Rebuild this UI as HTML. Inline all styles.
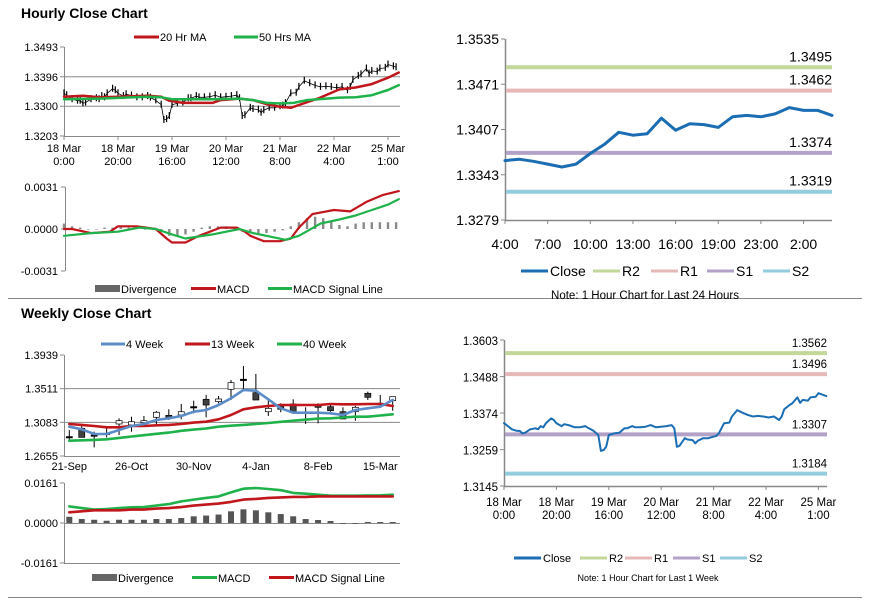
<!DOCTYPE html>
<html><head><meta charset="utf-8"><style>
html,body{margin:0;padding:0;background:#fff;}
svg{display:block;font-family:"Liberation Sans",Arial,sans-serif;}
</style></head><body>
<svg id="s" width="873" height="601" viewBox="0 0 873 601" xmlns="http://www.w3.org/2000/svg">
<text x="21" y="18" font-size="14" font-weight="bold" fill="#000">Hourly Close Chart</text>
<text x="21" y="318" font-size="14" font-weight="bold" fill="#000">Weekly Close Chart</text>
<line x1="8" y1="298.5" x2="862" y2="298.5" stroke="#888" stroke-width="1"/>
<line x1="8" y1="597.5" x2="862" y2="597.5" stroke="#888" stroke-width="1"/>
<g id="g"></g>
</svg>
<script>
// ---------- data ----------
// hourly closes (hour index from 18 Mar 0:00) – shared by hourly bar chart and 1-week close chart
const hourIdx = [0,1,3,5,6,7,8,10,12,13,14,15,16,18,19,20,22,23,25,27,29,31,32,34,36,37,38,39,40,42,44,46,47,49,50,52,54,56,58,60,62,64,65,66,67,69,70,72,73,74,76,78,80,81,82,84,86,87,89,91,93,95,97,99,101,103,105,106,107,109,110,112,113,114,116,117,119,120,122,123];
const hourClose = [1.3342,1.3336,1.3323,1.3318,1.3318,1.3310,1.3312,1.3323,1.3326,1.3323,1.3333,1.3329,1.3342,1.3357,1.3352,1.3342,1.3333,1.3339,1.3335,1.3329,1.3329,1.3333,1.3328,1.3319,1.3305,1.3255,1.3258,1.3268,1.3305,1.3310,1.3312,1.3326,1.3326,1.3333,1.3329,1.3329,1.3331,1.3336,1.3329,1.3331,1.3333,1.3336,1.3326,1.3268,1.3271,1.3295,1.3291,1.3289,1.3279,1.3287,1.3295,1.3295,1.3300,1.3302,1.3310,1.3342,1.3344,1.3363,1.3383,1.3375,1.3368,1.3363,1.3365,1.3363,1.3360,1.3363,1.3352,1.3363,1.3386,1.3399,1.3404,1.3423,1.3406,1.3415,1.3413,1.3423,1.3425,1.3436,1.3430,1.3427];
const ma20Hours = [0,7,13,20,31,36,39,44,55,58,65,70,75,80,84,87,94,102,108,114,120,124];
const ma20Values = [1.3331,1.3334,1.3329,1.3331,1.3334,1.3331,1.3318,1.3311,1.3311,1.3320,1.3325,1.3320,1.3307,1.3298,1.3295,1.3304,1.3325,1.3355,1.3361,1.3372,1.3393,1.3410];
const ma50Hours = [0,13,31,36,40,55,65,70,75,80,85,90,102,108,114,120,124];
const ma50Values = [1.3323,1.3325,1.3331,1.3329,1.3323,1.3323,1.3325,1.3320,1.3311,1.3309,1.3311,1.3320,1.3328,1.3329,1.3336,1.3353,1.3369];
const hMacdHours = [0,3,10,17,20,27,34,38,40,45,50,58,64,67,69,74,80,84,87,92,100,106,112,118,124];
const hMacdValues = [0.0000,0.0000,-0.0003,-0.0002,0.0002,0.0002,0.0000,-0.0007,-0.0010,-0.0010,-0.0005,0.0001,0.0001,-0.0002,-0.0005,-0.0009,-0.0009,-0.0007,0.0001,0.0011,0.0014,0.0013,0.0020,0.0025,0.0028];
const hSigHours = [0,10,20,28,34,40,45,55,65,70,75,82,87,95,102,108,114,120,124];
const hSigValues = [-0.0005,-0.0003,-0.0002,0.0001,0.0000,-0.0004,-0.0007,-0.0004,0.0000,-0.0003,-0.0005,-0.0008,-0.0005,0.0004,0.0007,0.0010,0.0014,0.0018,0.0022];
const hDivHours = [0,3,6,9,12,15,18,21,24,27,30,33,36,39,42,45,48,51,54,57,60,63,66,69,72,75,78,81,84,87,90,93,96,99,102,105,108,111,114,117,120,123];
const hDivValues = [0.0004,0.0002,0.0001,0.0000,0.0000,0.0001,0.0001,0.0002,0.0001,0.0001,0.0000,0.0000,-0.0002,-0.0005,-0.0005,-0.0004,-0.0002,0.0001,0.0002,0.0002,0.0002,0.0001,-0.0002,-0.0003,-0.0003,-0.0003,-0.0002,-0.0001,0.0002,0.0005,0.0008,0.0009,0.0008,0.0006,0.0003,0.0002,0.0004,0.0005,0.0005,0.0005,0.0005,0.0005];
const hourTickHours = [0,20,40,60,80,100,120];
const hourTickLine1 = ["18 Mar","18 Mar","19 Mar","20 Mar","21 Mar","22 Mar","25 Mar"];
const hourTickLine2 = ["0:00","20:00","16:00","12:00","8:00","4:00","1:00"];
const hPriceTicks = [1.3493,1.3396,1.3300,1.3203];
const hMacdTicks = [0.0031,0.0000,-0.0031];

// 24h close chart
const dayClose = [1.3363,1.3365,1.3362,1.3358,1.3354,1.3358,1.3373,1.3386,1.3403,1.3399,1.3401,1.3423,1.3406,1.3415,1.3414,1.3410,1.3425,1.3427,1.3425,1.3429,1.3438,1.3434,1.3434,1.3427];
const dayTickIdx = [0,3,6,9,12,15,18,21];
const dayTickLabels = ["4:00","7:00","10:00","13:00","16:00","19:00","23:00","2:00"];
const dayYTicks = [1.3535,1.3471,1.3407,1.3343,1.3279];
const dayLevels = [1.3495,1.3462,1.3374,1.3319];
const weekLevels = [1.3562,1.3496,1.3307,1.3184];
const weekYTicks = [1.3603,1.3488,1.3374,1.3259,1.3145];

// weekly candles
const wOpen = [1.2901,1.3007,1.2922,1.2943,1.3062,1.3050,1.3079,1.3147,1.3172,1.3176,1.3282,1.3376,1.3346,1.3503,1.3630,1.3460,1.3218,1.3291,1.3316,1.3211,1.3303,1.3282,1.3218,1.3218,1.3452,1.3325,1.3358];
const wHigh = [1.2985,1.3037,1.2964,1.3037,1.3134,1.3155,1.3164,1.3227,1.3249,1.3316,1.3358,1.3431,1.3418,1.3621,1.3799,1.3698,1.3388,1.3325,1.3376,1.3274,1.3325,1.3303,1.3274,1.3291,1.3473,1.3431,1.3409];
const wLow = [1.2837,1.2892,1.2765,1.2892,1.2922,1.2964,1.3037,1.3050,1.3113,1.3122,1.3198,1.3147,1.3325,1.3367,1.3494,1.3367,1.3164,1.3211,1.3211,1.3062,1.3070,1.3218,1.3126,1.3104,1.3367,1.3274,1.3231];
const wClose = [1.2901,1.2892,1.2922,1.2943,1.3104,1.3091,1.3104,1.3211,1.3147,1.3218,1.3282,1.3303,1.3380,1.3587,1.3630,1.3367,1.3261,1.3249,1.3211,1.3211,1.3274,1.3231,1.3126,1.3274,1.3401,1.3325,1.3409];
const ma4w = [1.3028,1.2994,1.2935,1.2935,1.2985,1.3037,1.3062,1.3113,1.3134,1.3164,1.3218,1.3240,1.3303,1.3388,1.3494,1.3485,1.3376,1.3261,1.3206,1.3206,1.3206,1.3198,1.3176,1.3240,1.3261,1.3282,1.3367];
const ma13w = [1.3062,1.3050,1.3037,1.3020,1.3020,1.3037,1.3037,1.3045,1.3050,1.3062,1.3079,1.3091,1.3122,1.3176,1.3249,1.3274,1.3291,1.3303,1.3303,1.3303,1.3303,1.3316,1.3312,1.3312,1.3316,1.3316,1.3291];
const ma40w = [1.2850,1.2855,1.2860,1.2867,1.2885,1.2903,1.2920,1.2937,1.2952,1.2975,1.2990,1.3005,1.3028,1.3040,1.3050,1.3062,1.3075,1.3090,1.3104,1.3117,1.3130,1.3134,1.3145,1.3155,1.3155,1.3170,1.3185];
const wMacd = [0.0067,0.0060,0.0054,0.0056,0.0060,0.0063,0.0064,0.0070,0.0076,0.0087,0.0094,0.0101,0.0107,0.0123,0.0138,0.0141,0.0137,0.0132,0.0121,0.0118,0.0114,0.0110,0.0110,0.0110,0.0111,0.0111,0.0114];
const wSignal = [0.0043,0.0047,0.0051,0.0051,0.0051,0.0054,0.0054,0.0058,0.0060,0.0064,0.0070,0.0074,0.0078,0.0085,0.0094,0.0097,0.0101,0.0103,0.0105,0.0105,0.0107,0.0107,0.0107,0.0107,0.0107,0.0107,0.0107];
const wDiv = [0.0025,0.0016,0.0013,0.0009,0.0013,0.0013,0.0013,0.0016,0.0016,0.0020,0.0027,0.0030,0.0034,0.0047,0.0055,0.0051,0.0043,0.0036,0.0027,0.0016,0.0012,0.0008,-0.0003,-0.0003,0.0004,0.0004,0.0004];
const weekTickIdx = [0,5,10,15,20,25];
const weekTickLabels = ["21-Sep","26-Oct","30-Nov","4-Jan","8-Feb","15-Mar"];
const wPriceTicks = [1.3939,1.3511,1.3083,1.2655];
const wMacdTicks = [0.0161,0.0000,-0.0161];

// ---------- helpers ----------
const NS="http://www.w3.org/2000/svg";
const root=document.getElementById('g');
function mk(tag,attrs,parent){const e=document.createElementNS(NS,tag);for(const k in attrs)e.setAttribute(k,attrs[k]);(parent||root).appendChild(e);return e;}
function lin(d0,d1,r0,r1){return v=>r0+(v-d0)*(r1-r0)/(d1-d0);}
function txt(x,y,s,size,anchor,fill,parent){const t=mk('text',{x:x,y:y,'font-size':size,'text-anchor':anchor||'start',fill:fill||'#000'},parent);t.textContent=s;return t;}
function poly(xs,ys,color,w,parent){const p=xs.map((x,i)=>x.toFixed(1)+','+ys[i].toFixed(1)).join(' ');return mk('polyline',{points:p,fill:'none',stroke:color,'stroke-width':w,'stroke-linejoin':'round','stroke-linecap':'round'},parent);}
const fmt4=v=>v.toFixed(4);

const RED='#c0161c', GREEN='#1fb24a', BLUE4='#5b8cc8';
const R2C='#c4d79b', R1C='#e6b9b8', S1C='#b3a2c7', S2C='#93cddd', CLOSEC='#1b6db4';

// ---------- Hourly price chart ----------
(function(){
  const g=mk('g',{});
  
  
  const x=lin(0,120,64,388), y=lin(1.3493,1.3203,47,136);
  [1.3396,1.3300].forEach(v=>{const l=mk('line',{x1:64,x2:400,y1:y(v),y2:y(v),stroke:'#888','stroke-width':1},g);
    
    });
  mk('line',{x1:64.5,x2:64.5,y1:47,y2:136,stroke:'#888'},g);
  mk('line',{x1:64,x2:400,y1:136.5,y2:136.5,stroke:'#888'},g);
  hPriceTicks.forEach(v=>{mk('line',{x1:60,x2:64,y1:y(v),y2:y(v),stroke:'#888'},g);
    const t=txt(58,y(v)+4,fmt4(v),11,'end','#000',g);
    
    });
  hourTickHours.forEach((h,i)=>{mk('line',{x1:x(h),x2:x(h),y1:136,y2:140,stroke:'#888'},g);
    const t1=txt(x(h),152,hourTickLine1[i],11,'middle','#000',g);
    
    
    txt(x(h),165,hourTickLine2[i],11,'middle','#000',g);});
  hourIdx.forEach((h,i)=>{const b=mk('line',{x1:x(h),x2:x(h),y1:y(hourClose[i])-4,y2:y(hourClose[i])+3,stroke:'#000','stroke-width':1.2},g);
    
    });
  poly(hourIdx.map(x),hourClose.map(y),'#000',0.8,g);
  const m20=poly(ma20Hours.map(x),ma20Values.map(y),RED,2.5,g);
  
  
  const m50=poly(ma50Hours.map(x),ma50Values.map(y),GREEN,2.5,g);
  
  
  // legend
  const lg=mk('g',{},g);
  
  
  mk('line',{x1:134,x2:159,y1:37,y2:37,stroke:RED,'stroke-width':3},lg);txt(160,41,'20 Hr MA',11,'start','#000',lg);
  mk('line',{x1:234,x2:258,y1:37,y2:37,stroke:GREEN,'stroke-width':3},lg);txt(259,41,'50 Hrs MA',11,'start','#000',lg);
})();

// ---------- Hourly MACD ----------
(function(){
  const g=mk('g',{});
  
  
  const x=lin(0,120,64,388), y=lin(0.0031,-0.0031,187,271);
  mk('line',{x1:65.5,x2:65.5,y1:187,y2:271,stroke:'#888'},g);
  hMacdTicks.forEach(v=>{mk('line',{x1:61,x2:65,y1:y(v),y2:y(v),stroke:'#888'},g);
    const t=txt(58,y(v)+4,fmt4(v),11,'end','#000',g);
    
    });
  hDivHours.forEach((h,i)=>{const v=hDivValues[i];const y0=y(0),y1=y(v);
    const r=mk('rect',{x:x(h)-1.2,y:Math.min(y0,y1),width:2.4,height:Math.max(0.6,Math.abs(y1-y0)),fill:'#8a8a8a'},g);
    
    });
  const a=poly(hMacdHours.map(x),hMacdValues.map(y),RED,2.2,g);
  
  
  const b=poly(hSigHours.map(x),hSigValues.map(y),GREEN,2.2,g);
  
  
  const lg=mk('g',{},g);
  
  
  mk('rect',{x:95,y:285,width:25,height:7,fill:'#666'},lg);txt(121,293,'Divergence',11,'start','#000',lg);
  mk('line',{x1:191,x2:216,y1:288.5,y2:288.5,stroke:RED,'stroke-width':3},lg);txt(217,293,'MACD',11,'start','#000',lg);
  mk('line',{x1:268,x2:292,y1:288.5,y2:288.5,stroke:GREEN,'stroke-width':3},lg);txt(293,293,'MACD Signal Line',11,'start','#000',lg);
})();

// ---------- Levels chart helper ----------
function levelChart(name,opt){
  const g=mk('g',{});
  
  
  const x=opt.x, y=opt.y;
  mk('line',{x1:opt.x0+0.5,x2:opt.x0+0.5,y1:opt.yTop,y2:opt.yBot,stroke:'#888','stroke-width':1.5},g);
  mk('line',{x1:opt.x0,x2:opt.x1,y1:opt.yBot+0.5,y2:opt.yBot+0.5,stroke:'#888','stroke-width':1.5},g);
  opt.yTicks.forEach(v=>{mk('line',{x1:opt.x0-4,x2:opt.x0,y1:y(v),y2:y(v),stroke:'#888'},g);
    const t=txt(opt.x0-6,y(v)+5,fmt4(v),opt.fs,'end','#000',g);
    
    
    if(opt.narrow)t.setAttribute('textLength',opt.narrow);});
  const cols=[R2C,R1C,S1C,S2C], names=['r2','r1','s1','s2'];
  opt.levels.forEach((v,i)=>{const l=mk('line',{x1:opt.x0+1,x2:opt.x1,y1:y(v),y2:y(v),stroke:cols[i],'stroke-width':4},g);
    
    
    const t=txt(opt.x1,y(v)-6,fmt4(v),opt.fs,'end','#000',g);
    
    
    if(opt.narrow)t.setAttribute('textLength',opt.narrow);});
  const c=poly(opt.xs.map(x),opt.vals.map(y),CLOSEC,opt.lw,g);
  
  
  opt.xTickPos.forEach((p,i)=>{mk('line',{x1:x(p),x2:x(p),y1:opt.yBot,y2:opt.yBot+4,stroke:'#888'},g);
    const t=txt(x(p),opt.xl1,opt.xLab1[i],opt.fs,'middle','#000',g);
    
    
    if(opt.xLab2)txt(x(p),opt.xl2,opt.xLab2[i],opt.fs,'middle','#000',g);});
  // legend
  const lg=mk('g',{},g);
  
  
  const L=opt.leg;
  const labs=['Close','R2','R1','S1','S2'], lc=[CLOSEC,R2C,R1C,S1C,S2C];
  L.pos.forEach((p,i)=>{mk('line',{x1:p,x2:p+L.len,y1:L.y,y2:L.y,stroke:lc[i],'stroke-width':3},lg);
    txt(p+L.len+2,L.y+L.fs*0.37,labs[i],L.fs,'start','#000',lg);});
  const n=txt(opt.noteX,opt.noteY,opt.note,opt.noteFs,'middle','#000',g);
  
  
}

levelChart('daily-levels-chart',{
  x:lin(0,23,505,832), y:lin(1.3535,1.3279,39,220), x0:505,x1:832,yTop:39,yBot:220,
  yTicks:dayYTicks, levels:dayLevels, xs:dayClose.map((v,i)=>i), vals:dayClose, lw:3,
  xTickPos:dayTickIdx, xLab1:dayTickLabels, xl1:249, fs:14, narrow:null,
  leg:{y:271,len:27,fs:14,pos:[521,593,651,707,763]},
  note:'Note: 1 Hour Chart for Last 24 Hours', noteX:645, noteY:299, noteFs:11.5
});
levelChart('weekly-levels-chart',{
  x:lin(0,120,504,818.4), y:lin(1.3603,1.3145,340,486), x0:504,x1:827,yTop:340,yBot:486,
  yTicks:weekYTicks, levels:weekLevels, xs:hourIdx, vals:hourClose, lw:2,
  xTickPos:hourTickHours, xLab1:hourTickLine1, xLab2:hourTickLine2, xl1:506, xl2:519, fs:11.5, narrow:null,
  leg:{y:558,len:27,fs:11,pos:[514,580,625,673,720]},
  note:'Note: 1 Hour Chart for  Last 1 Week', noteX:648, noteY:581, noteFs:9
});

// ---------- Weekly candle chart ----------
(function(){
  const g=mk('g',{});
  
  
  const x=lin(0,26,69.3,392.7), y=lin(1.3939,1.2655,355,456);
  [1.3511,1.3083].forEach(v=>{mk('line',{x1:64,x2:400,y1:y(v),y2:y(v),stroke:'#888'},g);});
  mk('line',{x1:64.5,x2:64.5,y1:355,y2:456,stroke:'#888'},g);
  mk('line',{x1:64,x2:400,y1:456.5,y2:456.5,stroke:'#888'},g);
  wPriceTicks.forEach(v=>{mk('line',{x1:60,x2:64,y1:y(v),y2:y(v),stroke:'#888'},g);
    const t=txt(58,y(v)+4,fmt4(v),11,'end','#000',g);
    
    });
  weekTickIdx.forEach((k,i)=>{const t=txt(x(k),470,weekTickLabels[i],11,'middle','#000',g);
    
    });
  wOpen.forEach((o,i)=>{const c=wClose[i];const cx=x(i);
    const cg=mk('g',{},g);
    
    
    mk('line',{x1:cx,x2:cx,y1:y(wHigh[i]),y2:y(wLow[i]),stroke:'#000','stroke-width':1},cg);
    const top=y(Math.max(o,c)),bot=y(Math.min(o,c));
    mk('rect',{x:cx-3,y:top,width:6,height:Math.max(1.2,bot-top),fill:c>o?'#fff':(c<o?'#404040':'#000'),stroke:'#000','stroke-width':c===o?0.8:0.7},cg);});
  const l40=poly(ma40w.map((v,i)=>x(i)),ma40w.map(y),GREEN,2.6,g);
  
  
  const l13=poly(ma13w.map((v,i)=>x(i)),ma13w.map(y),RED,2.6,g);
  
  
  const l4=poly(ma4w.map((v,i)=>x(i)),ma4w.map(y),BLUE4,2.6,g);
  
  
  const lg=mk('g',{},g);
  
  
  mk('line',{x1:101,x2:125,y1:344,y2:344,stroke:BLUE4,'stroke-width':3},lg);txt(126,348,'4 Week',11,'start','#000',lg);
  mk('line',{x1:185,x2:210,y1:344,y2:344,stroke:RED,'stroke-width':3},lg);txt(211,348,'13 Week',11,'start','#000',lg);
  mk('line',{x1:277,x2:302,y1:344,y2:344,stroke:GREEN,'stroke-width':3},lg);txt(303,348,'40 Week',11,'start','#000',lg);
})();

// ---------- Weekly MACD ----------
(function(){
  const g=mk('g',{});
  
  
  const x=lin(0,26,69.3,392.7), y=lin(0.0161,-0.0161,483,563);
  mk('line',{x1:64.5,x2:64.5,y1:483,y2:563,stroke:'#888'},g);
  mk('line',{x1:64,x2:400,y1:y(0)+0.5,y2:y(0)+0.5,stroke:'#888'},g);
  mk('line',{x1:64,x2:400,y1:563.5,y2:563.5,stroke:'#888'},g);
  wMacdTicks.forEach(v=>{mk('line',{x1:60,x2:64,y1:y(v),y2:y(v),stroke:'#888'},g);
    const t=txt(58,y(v)+4,fmt4(v),11,'end','#000',g);
    
    });
  wDiv.forEach((v,i)=>{const y0=y(0),y1=y(v);
    const r=mk('rect',{x:x(i)-3,y:Math.min(y0,y1),width:6,height:Math.max(0.8,Math.abs(y1-y0)),fill:'#555'},g);
    
    });
  const a=poly(wMacd.map((v,i)=>x(i)),wMacd.map(y),GREEN,2.6,g);
  
  
  const b=poly(wSignal.map((v,i)=>x(i)),wSignal.map(y),RED,2.6,g);
  
  
  const lg=mk('g',{},g);
  
  
  mk('rect',{x:92,y:574,width:25,height:7,fill:'#666'},lg);txt(118,582,'Divergence',11,'start','#000',lg);
  mk('line',{x1:192,x2:217,y1:577.5,y2:577.5,stroke:GREEN,'stroke-width':3},lg);txt(218,582,'MACD',11,'start','#000',lg);
  mk('line',{x1:269,x2:294,y1:577.5,y2:577.5,stroke:RED,'stroke-width':3},lg);txt(295,582,'MACD Signal Line',11,'start','#000',lg);
})();
</script>
</body></html>
